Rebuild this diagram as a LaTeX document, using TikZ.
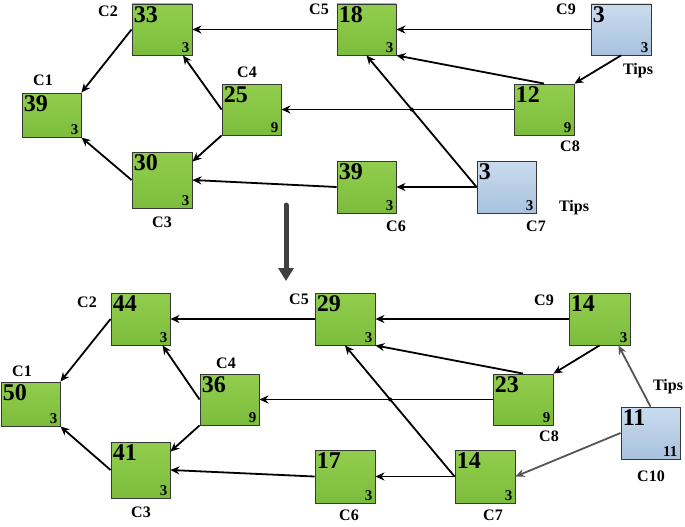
\documentclass[tikz,border=0pt]{standalone}
\usepackage{fontspec}
\setmainfont{Liberation Serif}
\usetikzlibrary{arrows.meta,intersections,shadows}
\definecolor{gtop}{RGB}{146,206,78}
\definecolor{gbot}{RGB}{124,188,60}
\definecolor{btop}{RGB}{202,219,238}
\definecolor{bbot}{RGB}{168,194,222}
\definecolor{boxline}{RGB}{55,55,55}
\definecolor{darkarrow}{RGB}{64,64,64}
\definecolor{grayline}{RGB}{85,85,85}
\tikzset{
  cellbase/.style={draw=boxline, line width=0.9pt, inner sep=0pt,
    drop shadow={shadow xshift=1pt, shadow yshift=-1pt, fill=black, opacity=0.35}},
  greencell/.style={cellbase, top color=gtop, bottom color=gbot},
  bluecell/.style={cellbase, top color=btop, bottom color=bbot},
  bignum/.style={font=\fontsize{24}{24}\selectfont\bfseries, inner sep=0pt, anchor=north west},
  smallnum/.style={font=\fontsize{15}{15}\selectfont\bfseries, inner sep=0pt, anchor=south east},
  lbl/.style={font=\fontsize{16}{16}\selectfont\bfseries, inner sep=0pt},
  con/.style={line width=1.8pt, -{Stealth[length=9pt,width=8pt]}},
  gcon/.style={con, draw=grayline},
}
\newcommand\cellbox[7]{%
  \node[#1, minimum width=#4pt, minimum height=#5pt] (#2) at (#3) {};
  \node[bignum] (#2n) at ([xshift=2pt,yshift=-3pt]#2.north west) {#6};
  \node[smallnum] (#2s) at ([xshift=-3pt,yshift=3pt]#2.south east) {#7};
}
\begin{document}
\begin{tikzpicture}[x=1pt,y=-1pt]
\useasboundingbox (0,0) rectangle (685,527);

% ---------- top diagram ----------
\cellbox{greencell}{T1}{51.5,115}{59}{44}{39}{3}
\cellbox{greencell}{T2}{162,29.5}{60}{51}{33}{3}
\cellbox{greencell}{T3}{162,180}{60}{56}{30}{3}
\cellbox{greencell}{T4}{251.5,109.5}{59}{51}{25}{9}
\cellbox{greencell}{T5}{366.5,29.5}{59}{51}{18}{3}
\cellbox{greencell}{T6}{366.5,187}{59}{52}{39}{3}
\cellbox{bluecell}{T7}{506.5,187}{59}{52}{3}{3}
\cellbox{greencell}{T8}{544,109.5}{60}{51}{12}{9}
\cellbox{bluecell}{T9}{621,29.5}{60}{51}{3}{3}

\node[lbl] (tl2) at (108,11) {C2};
\node[lbl] (tl1) at (43,80) {C1};
\node[lbl] (tl4) at (247,72) {C4};
\node[lbl] (tl3) at (162,222) {C3};
\node[lbl] (tl5) at (319,9) {C5};
\node[lbl] (tl9) at (566,9) {C9};
\node[lbl] (tlt9) at (638,71) {Tips};
\node[lbl] (tl8) at (570,146) {C8};
\node[lbl] (tl6) at (396,226) {C6};
\node[lbl] (tl7) at (536,226) {C7};
\node[lbl] (tlt7) at (574,208) {Tips};

\draw[con] (T5.west) -- (T2.east);
\draw[con] (T9.west) -- (T5.east);
\draw[con] (T9.south) -- (T8.north east);
\draw[con] (T8.north) -- (T5.south east);
\draw[con, name path=ta] (T8.west) -- (T4.east);
\draw[con, name path=tb] (T7.west) -- (T5.south);
\draw[con] (T7.west) -- (T6.east);
\draw[con] (T6.west) -- (T3.east);
\draw[con] (T4.west) -- ([xshift=21pt]T2.south);
\draw[con] (T4.south west) -- ([yshift=-10pt]T3.north east);
\draw[con] (T2.west) -- (T1.north east);
\draw[con] (T3.west) -- (T1.south east);
\fill[name intersections={of=ta and tb}] (intersection-1) circle (2pt);

% ---------- big arrow ----------
\coordinate (ba) at (286,205);
\coordinate (bb) at (286,281);
\draw[darkarrow, line width=5pt, line cap=round, -{Triangle[length=13pt,width=15pt]}] (ba) -- (bb);

% ---------- bottom diagram ----------
\cellbox{greencell}{B1}{30.5,404}{59}{44}{50}{3}
\cellbox{greencell}{B2}{140.5,319}{59}{52}{44}{3}
\cellbox{greencell}{B3}{140.5,470}{59}{56}{41}{3}
\cellbox{greencell}{B4}{229.5,399.5}{59}{51}{36}{9}
\cellbox{greencell}{B5}{345,319}{60}{52}{29}{3}
\cellbox{greencell}{B6}{345,476.5}{60}{53}{17}{3}
\cellbox{greencell}{B7}{485,476.5}{60}{53}{14}{3}
\cellbox{greencell}{B8}{523,399.5}{60}{51}{23}{9}
\cellbox{greencell}{B9}{599.5,319}{61}{52}{14}{3}
\cellbox{bluecell}{B10}{650.5,433}{59}{52}{11}{11}

\node[lbl] (bl2) at (87,302) {C2};
\node[lbl] (bl1) at (22,371) {C1};
\node[lbl] (bl4) at (226,363) {C4};
\node[lbl] (bl3) at (141,512) {C3};
\node[lbl] (bl5) at (299,299) {C5};
\node[lbl] (bl9) at (544,300) {C9};
\node[lbl] (blt) at (668,387) {Tips};
\node[lbl] (bl8) at (549,436) {C8};
\node[lbl] (bl10) at (651,476) {C10};
\node[lbl] (bl6) at (349,515) {C6};
\node[lbl] (bl7) at (493,515) {C7};

\draw[con] (B5.west) -- (B2.east);
\draw[con] (B9.west) -- (B5.east);
\draw[con] (B9.south) -- (B8.north east);
\draw[con] (B8.north) -- (B5.south east);
\draw[con, name path=ba] (B8.west) -- (B4.east);
\draw[con, name path=bb] (B7.west) -- (B5.south);
\draw[con] (B7.west) -- (B6.east);
\draw[con] (B6.west) -- (B3.east);
\draw[con] (B4.west) -- ([xshift=22pt]B2.south);
\draw[con] (B4.south west) -- ([yshift=-10pt]B3.north east);
\draw[con] (B2.west) -- (B1.north east);
\draw[con] (B3.west) -- (B1.south east);
\draw[gcon] (B10.north) -- ([xshift=-12pt]B9.south east);
\draw[gcon] (B10.west) -- (B7.east);
\fill[name intersections={of=ba and bb}] (intersection-1) circle (2pt);
\end{tikzpicture}
\end{document}
